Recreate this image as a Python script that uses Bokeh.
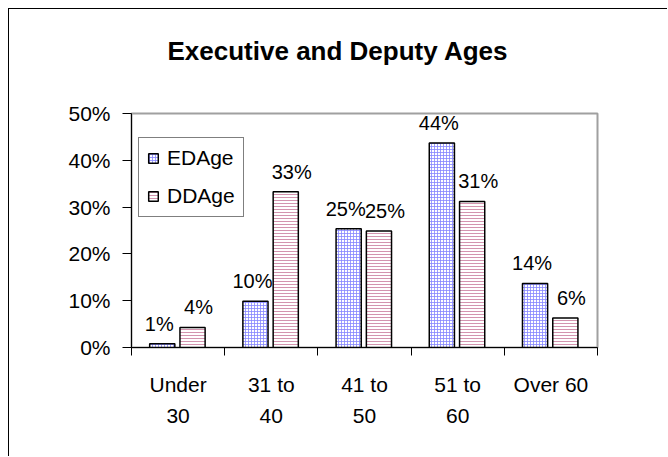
from bokeh.plotting import figure
from bokeh.models import (ColumnDataSource, FixedTicker, NumeralTickFormatter,
                          LinearAxis, Range1d, Legend, LegendItem)
from bokeh.core.properties import value
from bokeh.embed import file_html
from bokeh.resources import INLINE

title = "Executive and Deputy Ages"
categories = ["Under\n30", "31 to\n40", "41 to\n50", "51 to\n60", "Over 60"]
ed_age = [0.008, 0.099, 0.254, 0.437, 0.137]
dd_age = [0.043, 0.333, 0.249, 0.312, 0.063]
series_names = ["EDAge", "DDAge"]
y_ticks = [0, 0.1, 0.2, 0.3, 0.4, 0.5]

FONT = "Liberation Sans"
FS = "21px"
n = len(categories)
centers = [i + 0.5 for i in range(n)]
bounds = list(range(n + 1))
ed_x = [c - 0.17 for c in centers]
dd_x = [c + 0.155 for c in centers]
line1 = [c.split("\n")[0] for c in categories]
line2 = [(c.split("\n") + [""])[1] for c in categories]

src = ColumnDataSource(dict(
    ed_x=ed_x, dd_x=dd_x, ed=ed_age, dd=dd_age,
    ed_lbl=[f"{round(v * 100)}%" for v in ed_age],
    dd_lbl=[f"{round(v * 100)}%" for v in dd_age],
))

p = figure(width=659, height=448, x_range=Range1d(0, n), y_range=Range1d(0, 0.5),
           output_backend="svg", toolbar_location=None,
           min_border_left=122, min_border_right=71, min_border_top=104,
           min_border_bottom=110)
p.styles = {"border-left": "1px solid black", "border-top": "1px solid black",
            "margin-left": "8px", "margin-top": "8px"}
p.grid.visible = False
p.outline_line_color = "#a0a0a0"
p.outline_line_width = 2
p.background_fill_color = "white"
p.border_fill_color = "white"

xa = p.xaxis[0]
ya = p.yaxis[0]

# trailing blank line lifts the title away from the plot frame
p.title.text = title + "\n"
p.title.align = "left"
p.title.offset = 36
p.title.text_font = FONT
p.title.text_font_size = "26px"
p.title.text_font_style = "bold"
p.title.text_color = "black"
p.title.standoff = 36

bar_w = 0.27
r1 = p.vbar(x="ed_x", top="ed", width=bar_w, source=src, fill_color="white",
            line_color="black", line_width=1.5, hatch_pattern="+",
            hatch_color="#8585ff", hatch_scale=3, hatch_weight=0.8)
r2 = p.vbar(x="dd_x", top="dd", width=bar_w, source=src, fill_color="white",
            line_color="black", line_width=1.5, hatch_pattern="-",
            hatch_color="#c8789a", hatch_scale=3, hatch_weight=0.8)

for xcol, ycol, tcol, dx in (("ed_x", "ed", "ed_lbl", -3), ("dd_x", "dd", "dd_lbl", 6)):
    p.text(x=xcol, y=ycol, text=tcol, source=src, text_align="center",
           text_baseline="bottom", x_offset=dx, y_offset=-9, text_font=value(FONT),
           text_font_size="20px", text_color="black")

# y axis
ya.ticker = FixedTicker(ticks=y_ticks)
ya.formatter = NumeralTickFormatter(format="0%")
ya.major_tick_out = 9
ya.major_tick_in = 0
ya.minor_tick_line_color = None
ya.axis_line_color = "black"
ya.major_label_text_font = FONT
ya.major_label_text_font_size = FS
ya.major_label_text_color = "black"
ya.major_label_standoff = 12

# x axis: boundary ticks as minor ticks, first label line at centres
xa.ticker = FixedTicker(ticks=centers, minor_ticks=bounds)
xa.major_label_overrides = {c: t for c, t in zip(centers, line1)}
xa.major_tick_line_color = None
xa.major_tick_out = 0
xa.major_tick_in = 0
xa.minor_tick_line_color = "black"
xa.minor_tick_out = 8
xa.minor_tick_in = 0
xa.axis_line_color = "black"
xa.major_label_standoff = 17
xa.major_label_text_font = FONT
xa.major_label_text_font_size = FS
xa.major_label_text_color = "black"

ticks2 = [c for c, t in zip(centers, line2) if t]
ax2 = LinearAxis(ticker=FixedTicker(ticks=ticks2),
                 major_label_overrides={c: t for c, t in zip(centers, line2) if t})
ax2.axis_line_color = None
ax2.major_tick_line_color = None
ax2.minor_tick_line_color = None
ax2.major_tick_out = 0
ax2.major_tick_in = 0
ax2.major_label_standoff = 10
ax2.major_label_text_font = FONT
ax2.major_label_text_font_size = FS
ax2.major_label_text_color = "black"
p.add_layout(ax2, "below")

legend = Legend(items=[LegendItem(label=series_names[0], renderers=[r1]),
                       LegendItem(label=series_names[1], renderers=[r2])],
                location=(7, 130))
legend.border_line_color = "black"
legend.border_line_width = 1
legend.background_fill_color = "white"
legend.background_fill_alpha = 1
legend.glyph_width = 12
legend.glyph_height = 12
legend.label_text_font = FONT
legend.label_text_font_size = FS
legend.label_text_color = "black"
legend.label_height = 20
legend.spacing = 14
legend.padding = 8
legend.margin = 0
legend.label_standoff = 8
p.add_layout(legend)

open("out.html", "w").write(file_html(p, INLINE))
